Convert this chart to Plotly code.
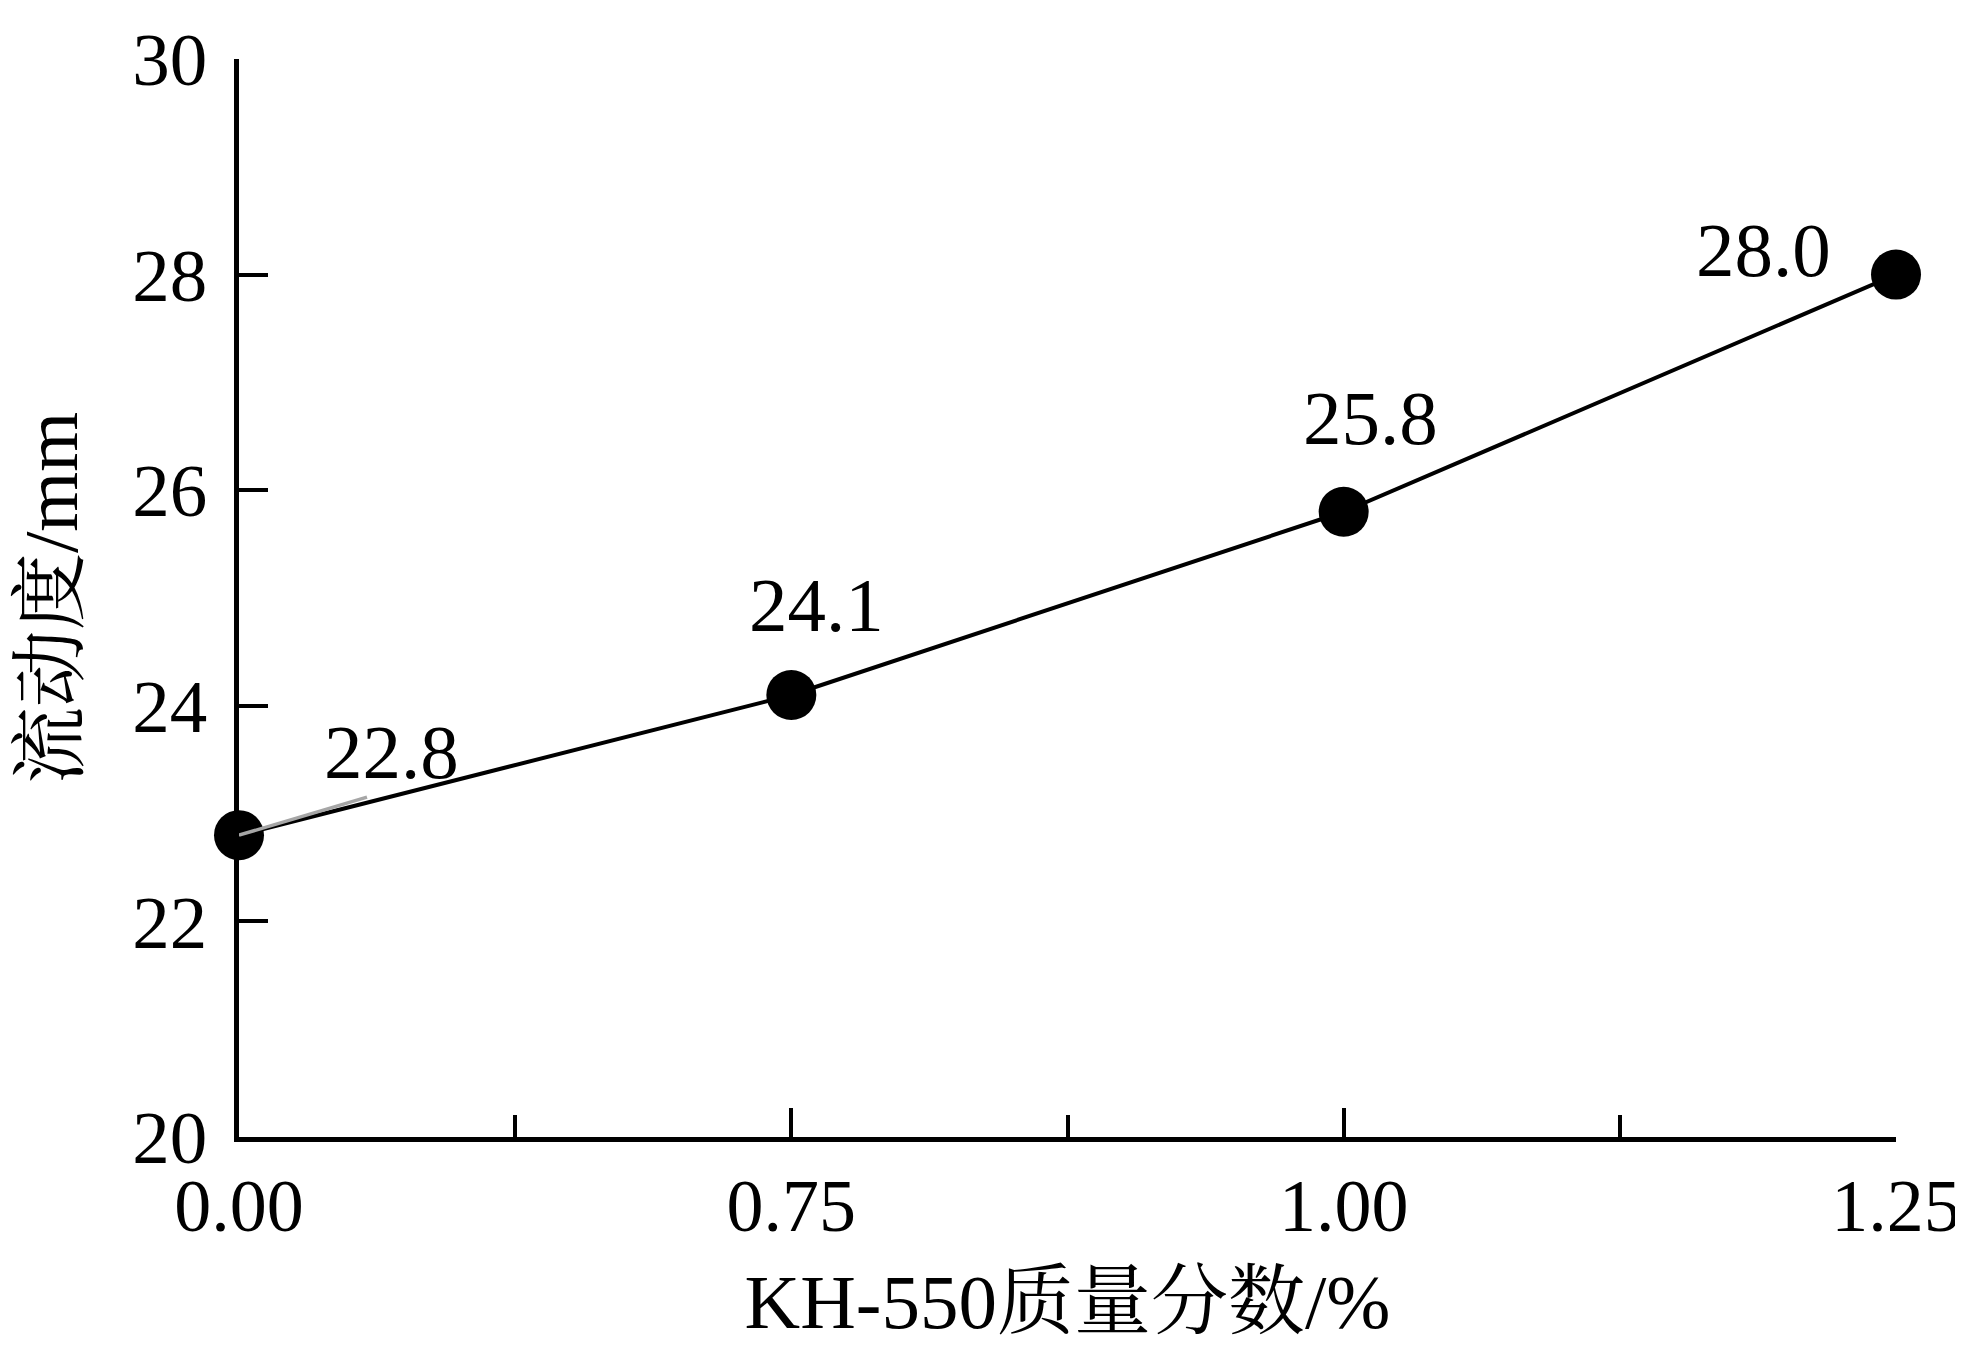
import plotly.graph_objects as go

# Data
categories = ["0.00", "0.75", "1.00", "1.25"]
flow = [22.8, 24.1, 25.8, 28.0]
y_ticks = [20, 22, 24, 26, 28, 30]
x_title = "KH-550质量分数/%"
y_title = "流动度/mm"

# style: label offsets in pixels (dx right, dy up)
label_offsets = [(152, 83), (25, 90), (27, 94), (-133, 25)]

FONT = "Liberation Serif, Times New Roman, Noto Serif CJK SC, Noto Sans CJK SC, serif"
xpos = list(range(len(categories)))

fig = go.Figure()
fig.add_trace(go.Scatter(
    x=xpos, y=flow, mode="lines+markers",
    line=dict(color="black", width=4),
    marker=dict(color="black", size=50),
    cliponaxis=False, showlegend=False,
))

for xi, v, (dx, dy) in zip(xpos, flow, label_offsets):
    fig.add_annotation(x=xi, y=v, text=f"{v:.1f}", showarrow=False,
                       xshift=dx, yshift=dy, xanchor="center", yanchor="middle",
                       font=dict(family=FONT, size=77, color="black"))

# grey leader line from first point toward its label
fig.add_shape(type="line", xref="x", yref="y", xsizemode="pixel", ysizemode="pixel",
              xanchor=xpos[0], yanchor=flow[0], x0=0, y0=0, x1=128, y1=38,
              line=dict(color="#a6a6a6", width=3.5), layer="above")

# page body has an 8px margin, so the figure is offset by 8px
fig.update_layout(
    width=1955, height=1337,
    margin=dict(l=231, r=67, t=51, b=208, autoexpand=False),
    plot_bgcolor="white", paper_bgcolor="white",
    font=dict(family=FONT, size=74, color="black"),
)
fig.update_xaxes(
    range=[0, len(categories) - 1], tickmode="array", tickvals=xpos, ticktext=categories,
    showgrid=False, zeroline=False, showline=True, linecolor="black", linewidth=4.5,
    ticks="inside", ticklen=29, tickwidth=3.5, tickcolor="black",
    ticklabelstandoff=0, ticklabeloverflow="allow",
    minor=dict(tickvals=[0.5, 1.5, 2.5], ticks="inside", ticklen=22, tickwidth=3.5, tickcolor="black", showgrid=False),
    title=dict(text=x_title, standoff=30, font=dict(family=FONT, size=77)),
    tickfont=dict(family=FONT, size=74),
)
fig.update_yaxes(
    range=[20, 30], tickmode="array", tickvals=y_ticks,
    showgrid=False, zeroline=False, showline=True, linecolor="black", linewidth=4.5,
    ticks="inside", ticklen=29, tickwidth=3.5, tickcolor="black",
    ticklabelstandoff=12, ticklabeloverflow="allow",
    title=dict(text=y_title, standoff=40, font=dict(family=FONT, size=77)),
    tickfont=dict(family=FONT, size=75),
)

fig.write_html("out.html")
